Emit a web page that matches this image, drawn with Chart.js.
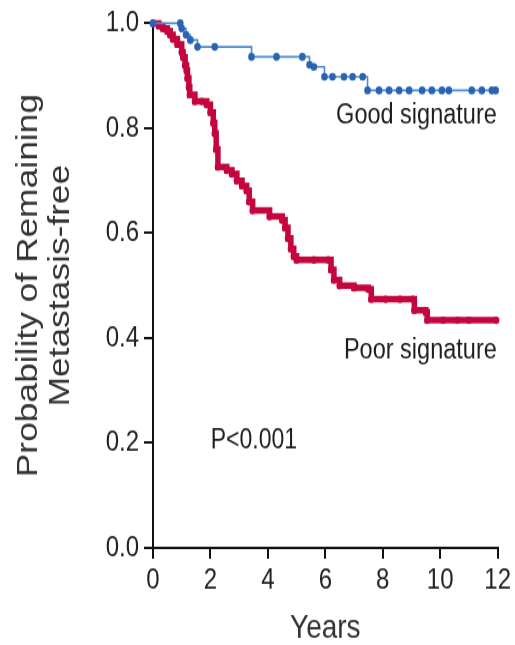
<!DOCTYPE html>
<html lang="en">
<head>
    <meta charset="UTF-8">
    <title>Metastasis-free survival by signature</title>
    <script src="https://cdn.jsdelivr.net/npm/chart.js"></script>
    <style>
        body { margin: 0; background: #fff; }
    </style>
</head>
<body>
    <!-- the source picture is stretched vertically, so the canvas is too (inline size keeps Chart.js from resetting it) -->
    <canvas id="kmChart" width="515" height="538" style="width:515px;height:645px;display:block"></canvas>
    <script>
        // Kaplan-Meier steps (years, probability)
        const goodYears = [0, 0.95, 1.0, 1.15, 1.3, 1.55, 2.15, 3.43, 4.3, 5.2, 5.45, 5.6, 5.97, 6.25, 6.65, 6.95, 7.3, 7.47,
            7.87, 8.22, 8.57, 8.92, 9.37, 9.71, 10.06, 10.3, 11.1, 11.45, 11.8, 11.93];
        const goodSurv = [1.0, 1.0, 0.99, 0.978, 0.968, 0.955, 0.955, 0.936, 0.936, 0.936, 0.921, 0.917, 0.898, 0.898, 0.898, 0.898, 0.898, 0.872,
            0.872, 0.872, 0.872, 0.872, 0.872, 0.872, 0.872, 0.872, 0.872, 0.872, 0.872, 0.872];

        const poorYears = [0, 0.2, 0.35, 0.5, 0.6, 0.7, 0.85, 1.0, 1.05, 1.12, 1.17, 1.2, 1.25, 1.28, 1.46, 1.7, 1.87, 2.0, 2.1, 2.15,
            2.2, 2.26, 2.57, 2.75, 2.92, 3.1, 3.26, 3.35, 3.47, 4.06, 4.5, 4.6, 4.7, 4.8, 4.9, 5.0, 5.6, 6.1, 6.2, 6.3, 6.5,
            7.0, 7.5, 7.6, 8.1, 8.6, 9.05, 9.1, 9.5, 9.55, 10.1, 10.6, 11.0, 11.95];
        const poorSurv = [1.0, 0.995, 0.99, 0.985, 0.978, 0.97, 0.96, 0.945, 0.935, 0.92, 0.91, 0.895, 0.878, 0.864, 0.851, 0.851, 0.845, 0.83, 0.81, 0.79,
            0.76, 0.726, 0.72, 0.713, 0.70, 0.69, 0.681, 0.66, 0.643, 0.632, 0.625, 0.61, 0.59, 0.57, 0.556, 0.549, 0.549, 0.549, 0.53, 0.511, 0.5,
            0.496, 0.493, 0.474, 0.474, 0.474, 0.474, 0.453, 0.449, 0.434, 0.434, 0.434, 0.434, 0.434];

        const xTicks = [0, 2, 4, 6, 8, 10, 12];
        const yTicks = [0, 0.2, 0.4, 0.6, 0.8, 1.0];

        // labels written inside the plot
        const notes = [
            { text: 'Good signature', x: 11.97, y: 0.823, align: 'right' },
            { text: 'Poor signature', x: 11.97, y: 0.375, align: 'right' },
            { text: 'P<0.001', x: 2.01, y: 0.204, align: 'left' }
        ];

        const FONT = "'Liberation Sans', Arial, sans-serif";

        const notePlugin = {
            id: 'notes',
            afterDatasetsDraw(chart) {
                const { ctx, scales } = chart;
                ctx.save();
                ctx.fillStyle = '#1e1e1e';
                ctx.textBaseline = 'middle';
                notes.forEach(n => {
                    ctx.font = (n.text === 'P<0.001' ? '23px ' : '23.5px ') + FONT;
                    ctx.textAlign = n.align;
                    ctx.fillText(n.text, scales.x.getPixelForValue(n.x), scales.y.getPixelForValue(n.y));
                });
                ctx.restore();
            }
        };

        const axisGrid = {
            display: true,
            drawOnChartArea: false,
            drawTicks: true,
            tickLength: 9,
            tickColor: '#111',
            lineWidth: 2
        };

        const ctx = document.getElementById('kmChart').getContext('2d');
        new Chart(ctx, {
            type: 'line',
            data: {
                datasets: [
                    {
                        label: 'Good signature',
                        data: goodYears.map((x, i) => ({ x: x, y: goodSurv[i] })),
                        stepped: true,
                        borderColor: '#4a8bd3',
                        borderWidth: 1.6,
                        pointRadius: 3.3,
                        pointBorderWidth: 0,
                        pointBackgroundColor: '#2a63b3',
                        clip: false
                    },
                    {
                        label: 'Poor signature',
                        data: poorYears.map((x, i) => ({ x: x, y: poorSurv[i] })),
                        stepped: true,
                        borderColor: '#c4063f',
                        borderWidth: 5.5,
                        pointRadius: 3.2,
                        pointBorderWidth: 0,
                        pointBackgroundColor: '#c4063f',
                        clip: false
                    }
                ]
            },
            options: {
                responsive: false,
                animation: false,
                layout: { padding: { top: 15, right: 16, left: 0, bottom: 0 } },
                plugins: {
                    legend: { display: false },
                    tooltip: { enabled: false }
                },
                scales: {
                    x: {
                        type: 'linear',
                        min: 0,
                        max: 12,
                        afterBuildTicks: s => { s.ticks = xTicks.map(v => ({ value: v })); },
                        afterFit: s => { s.height = 81; },
                        ticks: {
                            color: '#222',
                            padding: 4,
                            font: { family: FONT, size: 24 },
                            callback: v => String(v)
                        },
                        grid: axisGrid,
                        border: { color: '#111', width: 2 },
                        title: {
                            display: true,
                            text: 'Years',
                            color: '#333',
                            padding: { top: 0, bottom: 0 },
                            font: { family: FONT, size: 28, lineHeight: 1 }
                        }
                    },
                    y: {
                        min: 0,
                        max: 1,
                        afterBuildTicks: s => { s.ticks = yTicks.map(v => ({ value: v })); },
                        afterFit: s => { s.width = 153; },
                        ticks: {
                            color: '#222',
                            padding: 5,
                            font: { family: FONT, size: 24 },
                            callback: v => v.toFixed(1)
                        },
                        grid: axisGrid,
                        border: { color: '#111', width: 2 },
                        title: {
                            display: true,
                            text: ['Probability of Remaining', 'Metastasis-free'],
                            color: '#333',
                            padding: { top: 13, bottom: 0 },
                            font: { family: FONT, size: 29.5, lineHeight: 1.08 }
                        }
                    }
                }
            },
            plugins: [notePlugin]
        });
    </script>
</body>
</html>
